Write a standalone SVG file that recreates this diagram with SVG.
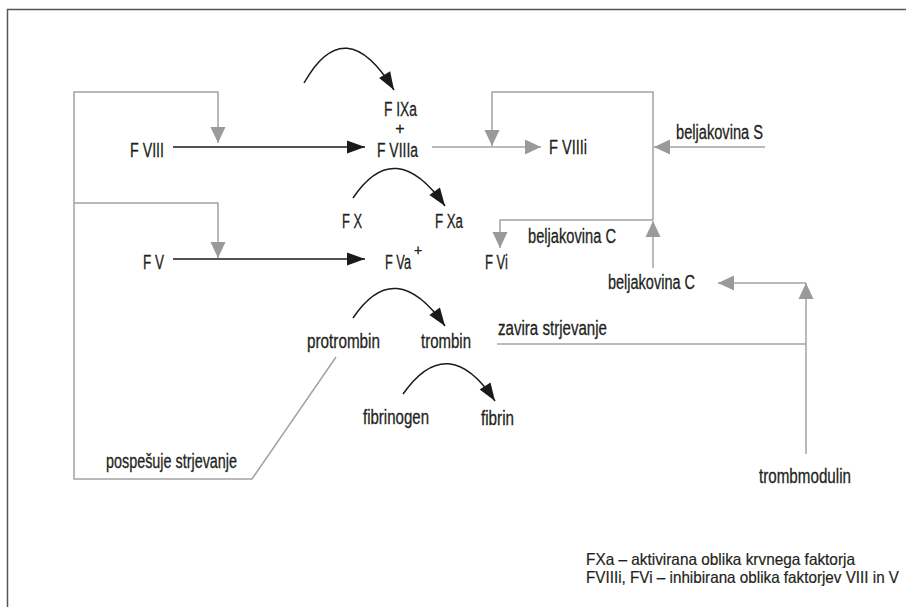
<svg xmlns="http://www.w3.org/2000/svg" width="906" height="607" viewBox="0 0 906 607">
<style>
text{font-family:"Liberation Sans Narrow","Liberation Sans",Arial,sans-serif;font-size:20px;fill:#231f20;stroke:#231f20;stroke-width:0.3;}
.leg{font-size:16.5px;stroke-width:0.2;}
.g{fill:none;stroke:#a3a3a3;stroke-width:1.5;marker-end:url(#ga);}
.gn{fill:none;stroke:#a3a3a3;stroke-width:1.5;}
.b{fill:none;stroke:#1a1a1a;stroke-width:1.5;marker-end:url(#ba);}
.frame{fill:none;stroke:#555;stroke-width:1.5;}
</style>
<defs>
<marker id="ga" markerUnits="userSpaceOnUse" markerWidth="17" markerHeight="16" refX="16" refY="7.5" orient="auto" overflow="visible">
<path d="M0,0 L16,7.5 L0,15 z" fill="#9a9a9a"/>
</marker>
<marker id="ba" markerUnits="userSpaceOnUse" markerWidth="19" markerHeight="14" refX="18" refY="6.5" orient="auto" overflow="visible">
<path d="M0,0 L18,6.5 L0,13 z" fill="#1a1a1a"/>
</marker>
</defs>
<rect width="906" height="607" fill="#fff"/>
<path class="frame" d="M7.5 607 V9.5 H906"/>
<g id="connectors">
<path class="g" d="M336 357 L252 479 H74 V92 H218 V143"/>
<path class="g" d="M74 203 H218 V258"/>
<path class="g" d="M432 147 H541"/>
<path class="g" d="M653 220 V92 H492 V146"/>
<path class="g" d="M765 147 H654"/>
<path class="g" d="M653 220 H500 V248"/>
<path class="g" d="M653 268 V221"/>
<path class="g" d="M806 454 V283"/>
<path class="g" d="M806 283 H718"/>
<path class="gn" d="M497 344 H806"/>
<path class="b" d="M173 147 H365"/>
<path class="b" d="M173 259 H365"/>
<path class="b" d="M304 83 Q345 10 394 90"/>
<path class="b" d="M353 198 Q395 135 445 206"/>
<path class="b" d="M353 318 Q395 255 445 326"/>
<path class="b" d="M403 394 Q448 330 495 401"/>
</g>
<g id="fviii"><text x="130" y="157" textLength="34" lengthAdjust="spacingAndGlyphs">F VIII</text></g>
<g id="fixa-fviiia">
<text x="384" y="116" textLength="33" lengthAdjust="spacingAndGlyphs">F IXa</text>
<text x="400" y="134" text-anchor="middle" style="font-size:16px">+</text>
<text x="377" y="157" textLength="41" lengthAdjust="spacingAndGlyphs">F VIIIa</text>
</g>
<g id="fviiii"><text x="549" y="154" textLength="38" lengthAdjust="spacingAndGlyphs">F VIIIi</text></g>
<g id="beljakovina-s"><text x="676" y="139" textLength="87" lengthAdjust="spacingAndGlyphs">beljakovina S</text></g>
<g id="fx"><text x="342" y="228" textLength="20" lengthAdjust="spacingAndGlyphs">F X</text></g>
<g id="fxa"><text x="435" y="228" textLength="28" lengthAdjust="spacingAndGlyphs">F Xa</text></g>
<g id="fv"><text x="143" y="269" textLength="21" lengthAdjust="spacingAndGlyphs">F V</text></g>
<g id="fva">
<text x="385" y="269" textLength="26" lengthAdjust="spacingAndGlyphs">F Va</text>
<text x="418" y="255" text-anchor="middle" style="font-size:14px">+</text>
</g>
<g id="fvi"><text x="485" y="269" textLength="23" lengthAdjust="spacingAndGlyphs">F Vi</text></g>
<g id="beljakovina-c-1"><text x="528" y="243" textLength="88" lengthAdjust="spacingAndGlyphs">beljakovina C</text></g>
<g id="beljakovina-c-2"><text x="608" y="289" textLength="87" lengthAdjust="spacingAndGlyphs">beljakovina C</text></g>
<g id="protrombin"><text x="307" y="348" textLength="73" lengthAdjust="spacingAndGlyphs">protrombin</text></g>
<g id="trombin"><text x="421" y="348" textLength="50" lengthAdjust="spacingAndGlyphs">trombin</text></g>
<g id="zavira"><text x="498" y="335" textLength="109" lengthAdjust="spacingAndGlyphs">zavira strjevanje</text></g>
<g id="fibrinogen"><text x="363" y="424" textLength="66" lengthAdjust="spacingAndGlyphs">fibrinogen</text></g>
<g id="fibrin"><text x="481" y="425" textLength="33" lengthAdjust="spacingAndGlyphs">fibrin</text></g>
<g id="pospesuje"><text x="106" y="468" textLength="131" lengthAdjust="spacingAndGlyphs">pospešuje strjevanje</text></g>
<g id="trombmodulin"><text x="759" y="483" textLength="92" lengthAdjust="spacingAndGlyphs">trombmodulin</text></g>
<g id="legend">
<text class="leg" x="586" y="565" textLength="269" lengthAdjust="spacingAndGlyphs">FXa – aktivirana oblika krvnega faktorja</text>
<text class="leg" x="586" y="583" textLength="313" lengthAdjust="spacingAndGlyphs">FVIIIi, FVi – inhibirana oblika faktorjev VIII in V</text>
</g>
</svg>
